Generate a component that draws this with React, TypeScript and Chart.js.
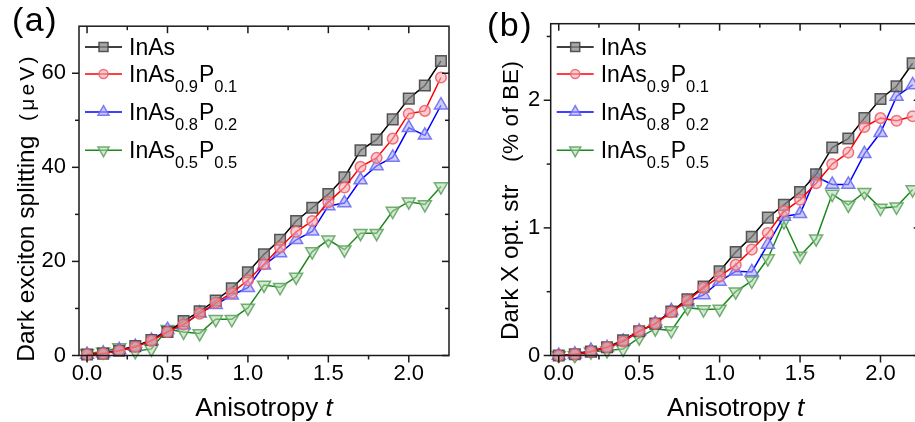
import React, { useEffect, useRef } from 'react';
import { Chart, registerables } from 'chart.js';

Chart.register(...registerables);

const FONT = "'Liberation Sans', Arial, Helvetica, sans-serif";

// ---------- data ----------
const tValues = [0, 0.1, 0.2, 0.3, 0.4, 0.5, 0.6, 0.7, 0.8, 0.9, 1.0, 1.1, 1.2, 1.3, 1.4, 1.5, 1.6, 1.7, 1.8, 1.9, 2.0, 2.1, 2.2];

// (a) Dark exciton splitting (µeV)
const splitInAs = [0.2, 0.4, 1.0, 2.0, 3.3, 5.0, 7.3, 9.4, 11.7, 14.3, 17.7, 21.5, 24.6, 28.6, 31.4, 34.3, 37.9, 43.6, 45.9, 50.2, 54.6, 57.4, 62.6];
const splitP01 = [0.2, 0.4, 1.0, 1.8, 3.1, 5.0, 6.6, 8.9, 11.2, 13.3, 16.0, 19.4, 23.0, 26.3, 28.6, 32.6, 35.7, 40.1, 42.0, 46.1, 51.4, 52.0, 59.1];
const splitP02 = [0.2, 0.5, 1.2, 1.9, 3.2, 5.5, 6.5, 9.0, 10.8, 12.8, 14.4, 19.2, 21.8, 24.6, 26.4, 31.8, 32.4, 37.3, 40.3, 42.1, 48.4, 46.8, 53.2];
const splitP05 = [0.5, 0.8, 1.7, 0.9, 1.4, 5.6, 5.0, 4.7, 7.7, 7.7, 10.1, 15.0, 14.5, 16.7, 22.1, 24.6, 22.5, 26.0, 26.0, 30.7, 32.7, 32.1, 35.9];

// (b) Dark X oscillator strength (% of BE)
const oscInAs = [0.0, 0.01, 0.03, 0.065, 0.12, 0.19, 0.25, 0.345, 0.44, 0.54, 0.66, 0.81, 0.93, 1.08, 1.18, 1.28, 1.42, 1.63, 1.70, 1.86, 2.01, 2.11, 2.29];
const oscP01 = [0.0, 0.01, 0.03, 0.065, 0.11, 0.19, 0.25, 0.34, 0.43, 0.53, 0.62, 0.71, 0.83, 0.96, 1.13, 1.22, 1.35, 1.50, 1.59, 1.79, 1.86, 1.84, 1.875];
const oscP02 = [0.0, 0.01, 0.04, 0.06, 0.11, 0.19, 0.25, 0.35, 0.42, 0.475, 0.58, 0.66, 0.655, 0.87, 1.09, 1.11, 1.40, 1.34, 1.34, 1.58, 1.745, 2.03, 2.12];
const oscP05 = [0.0, 0.0, 0.03, 0.04, 0.05, 0.14, 0.21, 0.195, 0.375, 0.36, 0.365, 0.50, 0.585, 0.76, 1.05, 0.78, 0.915, 1.265, 1.18, 1.28, 1.155, 1.165, 1.30];

// ticks
const xMajor = [0, 0.5, 1.0, 1.5, 2.0];
const xMinor = [0.25, 0.75, 1.25, 1.75];
const yMajorA = [0, 20, 40, 60];
const yMinorA = [10, 30, 50];
const yMajorB = [0, 1, 2];
const yMinorB = [0.5, 1.5, 2.5];

// series labels: [main, sub, main, sub]
const seriesNames = [
  ['InAs', '', '', ''],
  ['InAs', '0.9', 'P', '0.1'],
  ['InAs', '0.8', 'P', '0.2'],
  ['InAs', '0.5', 'P', '0.5'],
];

const seriesStyle = [
  { line: '#000000', border: 'rgba(70,70,70,0.9)', fill: 'rgba(140,140,140,0.75)', point: 'rect', radius: 7.5, rot: 0, order: 1 },
  { line: '#ff0000', border: 'rgba(235,100,110,0.9)', fill: 'rgba(245,170,180,0.6)', point: 'circle', radius: 5.3, rot: 0, order: 0 },
  { line: '#0000ff', border: 'rgba(110,110,240,0.9)', fill: 'rgba(170,170,250,0.6)', point: 'triangle', radius: 7.5, rot: 0, order: 2 },
  { line: '#1a8a1a', border: 'rgba(100,165,100,0.9)', fill: 'rgba(175,215,175,0.55)', point: 'triangle', radius: 7.5, rot: 180, order: 3 },
];

function drawMarker(ctx: CanvasRenderingContext2D, s: any, x: number, y: number) {
  const r = s.radius;
  ctx.beginPath();
  if (s.point === 'rect') {
    const h = r * Math.SQRT1_2;
    ctx.rect(x - h, y - h, 2 * h, 2 * h);
  } else if (s.point === 'circle') {
    ctx.arc(x, y, r, 0, Math.PI * 2);
  } else {
    let rad = (s.rot * Math.PI) / 180;
    ctx.moveTo(x + Math.sin(rad) * r, y - Math.cos(rad) * r);
    rad += (2 * Math.PI) / 3;
    ctx.lineTo(x + Math.sin(rad) * r, y - Math.cos(rad) * r);
    rad += (2 * Math.PI) / 3;
    ctx.lineTo(x + Math.sin(rad) * r, y - Math.cos(rad) * r);
    ctx.closePath();
  }
  ctx.fillStyle = s.fill;
  ctx.fill();
  ctx.strokeStyle = s.border;
  ctx.lineWidth = 1.5;
  ctx.stroke();
}

function drawSpaced(ctx: CanvasRenderingContext2D, text: string, x: number, y: number, spacing: number) {
  let u = x;
  for (const ch of Array.from(text)) {
    ctx.fillText(ch, u, y);
    u += ctx.measureText(ch).width + spacing;
  }
}

type Panel = {
  width: number;
  padRight: number;
  yAxisWidth: number;
  yMin: number;
  yMax: number;
  yMajor: number[];
  yMinor: number[];
  yFmt: (v: number) => string;
  yPad: number;
  series: number[][];
  label: string;
  labelX: number;
  labelY: number;
  titleMain: string;
  titleSub: string;
  titleBaseX: number;
  titleStartY: number;
  mainSize: number;
  subSize: number;
  subStartY: number;
  subSpacing: number;
};

const panelA: Panel = {
  width: 460,
  padRight: 11,
  yAxisWidth: 79,
  yMin: 0,
  yMax: 70,
  yMajor: yMajorA,
  yMinor: yMinorA,
  yFmt: (v) => String(v),
  yPad: 13,
  series: [splitInAs, splitP01, splitP02, splitP05],
  label: '(a)',
  labelX: 12,
  labelY: 31,
  titleMain: 'Dark exciton splitting',
  titleSub: '(\u03BCeV)',
  titleBaseX: 33.5,
  titleStartY: 361.7,
  mainSize: 24.5,
  subSize: 21,
  subStartY: 121,
  subSpacing: 3.2,
};

const panelB: Panel = {
  width: 470,
  padRight: 9.3,
  yAxisWidth: 90.7,
  yMin: 0,
  yMax: 2.6,
  yMajor: yMajorB,
  yMinor: yMinorB,
  yFmt: (v) => String(v),
  yPad: 10.5,
  series: [oscInAs, oscP01, oscP02, oscP05],
  label: '(b)',
  labelX: 27,
  labelY: 36,
  titleMain: 'Dark X opt. str',
  titleSub: '(% of BE)',
  titleBaseX: 57.7,
  titleStartY: 340,
  mainSize: 24.3,
  subSize: 22.5,
  subStartY: 162,
  subSpacing: 0.6,
};

function makeDecor(p: Panel) {
  return {
    id: 'decor',
    afterDraw(chart: any) {
      const ctx: CanvasRenderingContext2D = chart.ctx;
      const { left, right, top, bottom } = chart.chartArea;
      const xs = chart.scales.x;
      const ys = chart.scales.y;
      ctx.save();
      // frame
      ctx.strokeStyle = '#1a1a1a';
      ctx.lineWidth = 1.5;
      ctx.strokeRect(left, top, right - left, bottom - top);
      const tick = (x1: number, y1: number, x2: number, y2: number) => {
        ctx.beginPath();
        ctx.moveTo(x1, y1);
        ctx.lineTo(x2, y2);
        ctx.stroke();
      };
      const MAJ = 7;
      const MIN = 4;
      xMajor.forEach((v) => {
        const x = xs.getPixelForValue(v);
        tick(x, bottom, x, bottom + MAJ);
        tick(x, top, x, top + MAJ);
      });
      xMinor.forEach((v) => {
        const x = xs.getPixelForValue(v);
        tick(x, bottom, x, bottom + MIN);
        tick(x, top, x, top + MIN);
      });
      p.yMajor.forEach((v) => {
        const y = ys.getPixelForValue(v);
        tick(left, y, left - MAJ, y);
        tick(right, y, right - MAJ, y);
      });
      p.yMinor.forEach((v) => {
        const y = ys.getPixelForValue(v);
        tick(left, y, left - MIN, y);
        tick(right, y, right - MIN, y);
      });

      ctx.fillStyle = '#000';
      // panel label
      ctx.textAlign = 'left';
      ctx.textBaseline = 'alphabetic';
      ctx.font = `34px ${FONT}`;
      drawSpaced(ctx, p.label, p.labelX, p.labelY, 1.5);

      // x title
      ctx.font = `26px ${FONT}`;
      const a = 'Anisotropy ';
      const wA = ctx.measureText(a).width;
      ctx.font = `italic 26px ${FONT}`;
      const wT = ctx.measureText('t').width;
      const cx = (left + right) / 2;
      const sx = cx - (wA + wT) / 2;
      ctx.font = `26px ${FONT}`;
      ctx.fillText(a, sx, 416);
      ctx.font = `italic 26px ${FONT}`;
      ctx.fillText('t', sx + wA, 416);

      // y title (rotated)
      ctx.save();
      ctx.translate(p.titleBaseX, 0);
      ctx.rotate(-Math.PI / 2);
      ctx.textAlign = 'left';
      ctx.textBaseline = 'alphabetic';
      ctx.font = `${p.mainSize}px ${FONT}`;
      ctx.fillText(p.titleMain, -p.titleStartY, 0);
      ctx.font = `${p.subSize}px ${FONT}`;
      drawSpaced(ctx, p.titleSub, -p.subStartY, 0, p.subSpacing);
      ctx.restore();

      // legend
      const baselines = [55, 82, 120, 158.3];
      const lx0 = left + 6;
      const lx1 = left + 43;
      const tx = left + 50;
      seriesNames.forEach((parts, i) => {
        const s = seriesStyle[i];
        const by = baselines[i];
        const ly = by - 8;
        ctx.strokeStyle = s.line;
        ctx.lineWidth = 1.6;
        ctx.beginPath();
        ctx.moveTo(lx0, ly);
        ctx.lineTo(lx1, ly);
        ctx.stroke();
        drawMarker(ctx, { ...s, radius: s.radius * 0.85 }, (lx0 + lx1) / 2, ly);
        ctx.fillStyle = '#000';
        let x = tx;
        parts.forEach((txt, k) => {
          if (!txt) return;
          const sub = k % 2 === 1;
          ctx.font = `${sub ? 16.5 : 23}px ${FONT}`;
          ctx.fillText(txt, x, sub ? by + 9.5 : by);
          x += ctx.measureText(txt).width + (sub ? 1 : 0);
        });
      });
      ctx.restore();
    },
  };
}

function PanelChart({ p, left }: { p: Panel; left: number }) {
  const ref = useRef<HTMLCanvasElement | null>(null);
  useEffect(() => {
    if (!ref.current) return;
    const datasets = p.series.map((vals, i) => {
      const s = seriesStyle[i];
      return {
        label: seriesNames[i].join(''),
        data: tValues.map((t, k) => ({ x: t, y: vals[k] })),
        borderColor: s.line,
        borderWidth: 1.5,
        pointStyle: s.point,
        pointRotation: s.rot,
        pointRadius: s.radius,
        pointBorderColor: s.border,
        pointBackgroundColor: s.fill,
        pointBorderWidth: 1.5,
        tension: 0,
        fill: false,
        order: s.order,
        clip: 8,
      };
    });
    const chart = new Chart(ref.current, {
      type: 'line',
      data: { datasets } as any,
      options: {
        animation: false,
        responsive: false,
        devicePixelRatio: 1,
        layout: { padding: { left: 0, right: p.padRight, top: 20.7, bottom: 0 } },
        plugins: { legend: { display: false }, tooltip: { enabled: false } },
        scales: {
          x: {
            type: 'linear',
            min: -0.05,
            max: 2.25,
            grid: { display: false, drawTicks: false },
            border: { display: false },
            afterBuildTicks: (s: any) => {
              s.ticks = xMajor.map((v) => ({ value: v }));
            },
            afterFit: (s: any) => {
              s.height = 66.5;
            },
            ticks: {
              font: { family: FONT, size: 22 },
              color: '#000',
              padding: 5,
              maxRotation: 0,
              autoSkip: false,
              callback: (v: any) => Number(v).toFixed(1),
            },
          },
          y: {
            type: 'linear',
            min: p.yMin,
            max: p.yMax,
            grid: { display: false, drawTicks: false },
            border: { display: false },
            afterBuildTicks: (s: any) => {
              s.ticks = p.yMajor.map((v) => ({ value: v }));
            },
            afterFit: (s: any) => {
              s.width = p.yAxisWidth;
            },
            ticks: {
              font: { family: FONT, size: 22 },
              color: '#000',
              padding: p.yPad,
              autoSkip: false,
              callback: (v: any) => p.yFmt(Number(v)),
            },
          },
        },
      } as any,
      plugins: [makeDecor(p)],
    });
    return () => chart.destroy();
  }, [p]);
  return (
    <canvas
      ref={ref}
      width={p.width}
      height={422}
      style={{ position: 'absolute', left, top: 0, width: p.width, height: 422 }}
    />
  );
}

export default function App() {
  return (
    <div
      style={{
        position: 'absolute',
        left: 0,
        top: 0,
        width: 915,
        height: 422,
        overflow: 'hidden',
        background: '#fff',
      }}
    >
      <PanelChart p={panelA} left={0} />
      <PanelChart p={panelB} left={460} />
    </div>
  );
}
